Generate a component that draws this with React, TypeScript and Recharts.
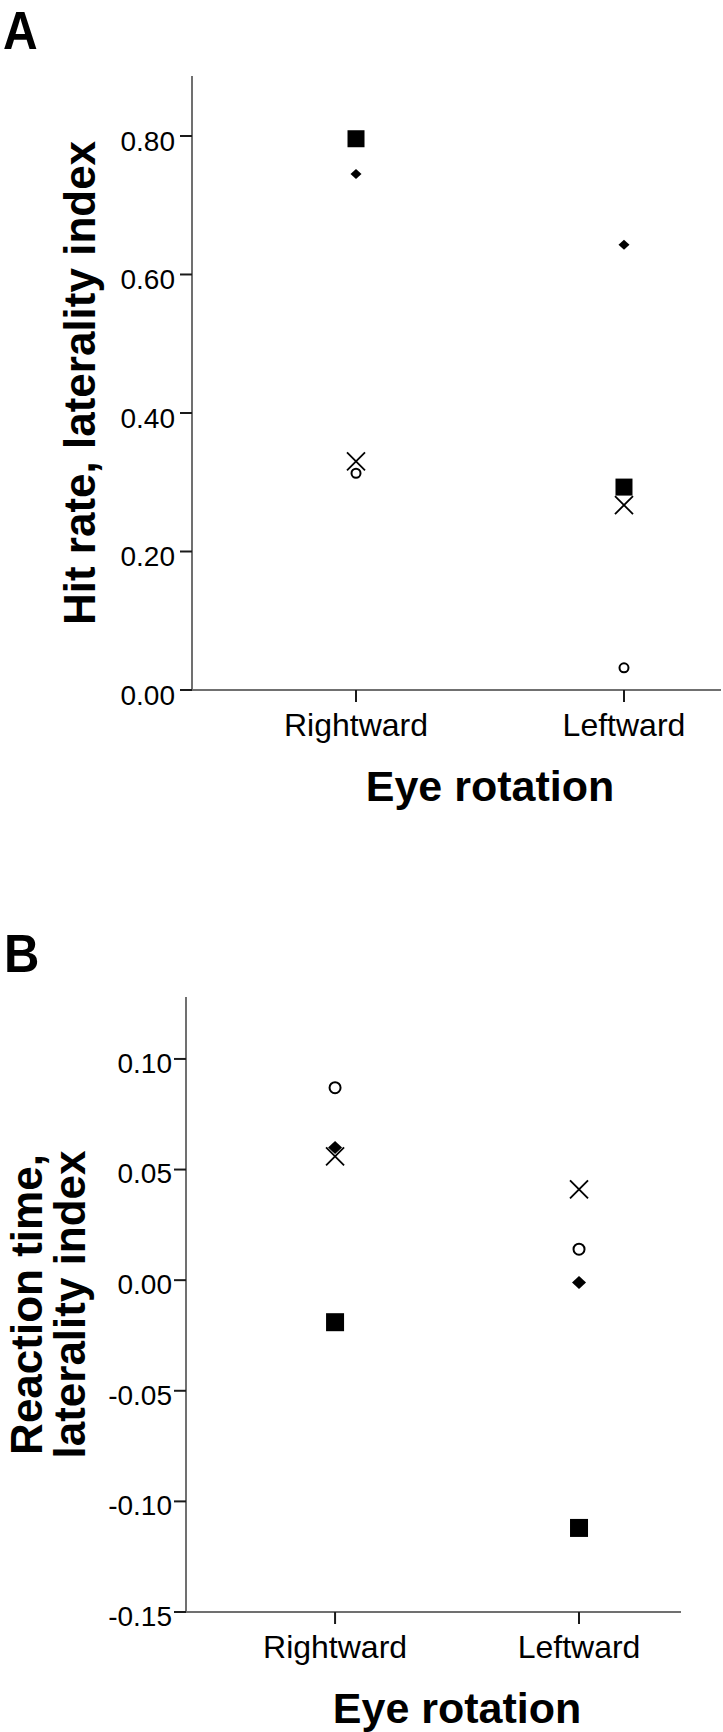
import React from 'react';
import { ScatterChart, Scatter, XAxis, YAxis, Label } from 'recharts';

const FONT = '"Liberation Sans", Arial, Helvetica, sans-serif';

// Categories on the x axis (placed at numeric positions 1 and 2)
const categories = ['Rightward', 'Leftward'];
const categoryPositions = [1, 2];

// Panel A: hit rate laterality index
const hitTicks = [0, 0.2, 0.4, 0.6, 0.8];
const hitSquare = [0.796, 0.293];
const hitDiamond = [0.745, 0.643];
const hitCircle = [0.313, 0.032];
const hitCross = [0.33, 0.267];

// Panel B: reaction time laterality index
const rtTicks = [-0.15, -0.1, -0.05, 0, 0.05, 0.1];
const rtSquare = [-0.019, -0.112];
const rtDiamond = [0.06, -0.001];
const rtCircle = [0.087, 0.014];
const rtCross = [0.056, 0.041];

const toPoints = (values: number[]) =>
  values.map((v, i) => ({ x: categoryPositions[i], y: v, cat: categories[i] }));

const makeSquare = (s: number) => (p: any) => (
  <rect x={p.cx - s / 2} y={p.cy - s / 2} width={s} height={s} fill="#000" />
);
const makeDiamond = (w: number, h: number) => (p: any) => (
  <path
    d={`M${p.cx},${p.cy - h / 2} L${p.cx + w / 2},${p.cy} L${p.cx},${p.cy + h / 2} L${p.cx - w / 2},${p.cy} Z`}
    fill="#000"
  />
);
const makeCircle = (d: number) => (p: any) => (
  <circle cx={p.cx} cy={p.cy} r={d / 2 - 1} fill="#fff" stroke="#000" strokeWidth={2} />
);
const makeCross = (s: number) => (p: any) => (
  <g stroke="#000" strokeWidth={1.8}>
    <line x1={p.cx - s / 2} y1={p.cy - s / 2} x2={p.cx + s / 2} y2={p.cy + s / 2} />
    <line x1={p.cx - s / 2} y1={p.cy + s / 2} x2={p.cx + s / 2} y2={p.cy - s / 2} />
  </g>
);

const makeYTick = (shift: number) => (p: any) => (
  <text
    x={p.x}
    y={p.y + shift}
    dy="0.355em"
    textAnchor="end"
    fontSize={28}
    fontFamily={FONT}
    fill="#000"
  >
    {Number(p.payload.value).toFixed(2)}
  </text>
);

const XTick = (p: any) => (
  <text x={p.x} y={p.y + 34} textAnchor="middle" fontSize={32} fontFamily={FONT} fill="#000">
    {categories[categoryPositions.indexOf(p.payload.value)]}
  </text>
);

const axisLineStyle = { stroke: '#707070', strokeWidth: 2 };
const tickLineStyle = { stroke: '#1a1a1a', strokeWidth: 2 };

const xTitle = (domain: number[]) => (props: any) => {
  const vb = props.viewBox || {};
  const mid = (categoryPositions[0] + categoryPositions[1]) / 2;
  const frac = (mid - domain[0]) / (domain[1] - domain[0]);
  return (
    <text
      x={vb.x + vb.width * frac}
      y={vb.y + 111}
      textAnchor="middle"
      fontSize={43}
      fontWeight="bold"
      fontFamily={FONT}
      fill="#000"
    >
      Eye rotation
    </text>
  );
};

const yTitle = (lines: string[], baselines: number[]) => (props: any) => {
  const vb = props.viewBox || {};
  const cy = vb.y + vb.height / 2;
  return (
    <g>
      {lines.map((line, i) => {
        const cx = vb.x + baselines[i];
        return (
          <text
            key={i}
            x={cx}
            y={cy}
            transform={`rotate(-90 ${cx} ${cy})`}
            textAnchor="middle"
            fontSize={44}
            fontWeight="bold"
            fontFamily={FONT}
            fill="#000"
          >
            {line}
          </text>
        );
      })}
    </g>
  );
};

const domainA = [0.388, 2.362];
const domainB = [0.389, 2.418];

export default function App() {
  return (
    <div style={{ position: 'absolute', left: 0, top: 0, width: 723, height: 1732, background: '#fff' }}>
      <div style={{ position: 'absolute', left: 0, top: 0 }}>
        <ScatterChart width={723} height={880} margin={{ top: 76, right: 2, bottom: 0, left: 0 }}>
          <XAxis
            type="number"
            dataKey="x"
            domain={domainA}
            ticks={categoryPositions}
            tick={XTick}
            tickSize={12}
            tickMargin={0}
            height={190}
            axisLine={axisLineStyle}
            tickLine={tickLineStyle}
            allowDataOverflow
          >
            <Label content={xTitle(domainA)} />
          </XAxis>
          <YAxis
            type="number"
            dataKey="y"
            domain={[0, 0.8866]}
            ticks={hitTicks}
            tick={makeYTick(5)}
            tickSize={12}
            tickMargin={5}
            width={192}
            axisLine={axisLineStyle}
            tickLine={tickLineStyle}
            allowDataOverflow
          >
            <Label content={yTitle(['Hit rate, laterality index'], [95])} />
          </YAxis>
          <Scatter data={toPoints(hitCross)} shape={makeCross(18)} isAnimationActive={false} />
          <Scatter data={toPoints(hitCircle)} shape={makeCircle(11)} isAnimationActive={false} />
          <Scatter data={toPoints(hitDiamond)} shape={makeDiamond(11, 10)} isAnimationActive={false} />
          <Scatter data={toPoints(hitSquare)} shape={makeSquare(17)} isAnimationActive={false} />
        </ScatterChart>
      </div>
      <div style={{ position: 'absolute', left: 0, top: 880 }}>
        <ScatterChart width={723} height={852} margin={{ top: 117, right: 42, bottom: 0, left: 0 }}>
          <XAxis
            type="number"
            dataKey="x"
            domain={domainB}
            ticks={categoryPositions}
            tick={XTick}
            tickSize={12}
            tickMargin={0}
            height={120}
            axisLine={axisLineStyle}
            tickLine={tickLineStyle}
            allowDataOverflow
          >
            <Label content={xTitle(domainB)} />
          </XAxis>
          <YAxis
            type="number"
            dataKey="y"
            domain={[-0.15, 0.128]}
            ticks={rtTicks}
            tick={makeYTick(4)}
            tickSize={12}
            tickMargin={2}
            width={186}
            axisLine={axisLineStyle}
            tickLine={tickLineStyle}
            allowDataOverflow
          >
            <Label content={yTitle(['Reaction time,', 'laterality index'], [42, 85])} />
          </YAxis>
          <Scatter data={toPoints(rtCross)} shape={makeCross(18)} isAnimationActive={false} />
          <Scatter data={toPoints(rtCircle)} shape={makeCircle(13)} isAnimationActive={false} />
          <Scatter data={toPoints(rtDiamond)} shape={makeDiamond(14, 13)} isAnimationActive={false} />
          <Scatter data={toPoints(rtSquare)} shape={makeSquare(18)} isAnimationActive={false} />
        </ScatterChart>
      </div>
      <svg
        width={723}
        height={1732}
        style={{ position: 'absolute', left: 0, top: 0, pointerEvents: 'none' }}
      >
        <text
          transform="translate(3 49) scale(1 1.1)"
          fontSize={48}
          fontWeight="bold"
          fontFamily={FONT}
          fill="#000"
        >
          A
        </text>
        <text
          transform="translate(4 972) scale(1 1.1)"
          fontSize={49}
          fontWeight="bold"
          fontFamily={FONT}
          fill="#000"
        >
          B
        </text>
      </svg>
    </div>
  );
}
